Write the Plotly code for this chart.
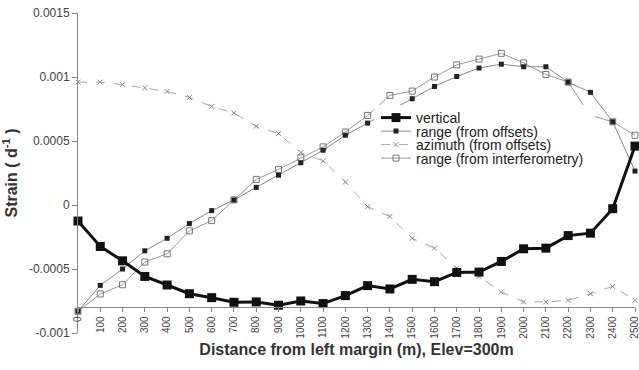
import plotly.graph_objects as go

dist = list(range(0, 2600, 100))
tick_labels = [str(d) for d in dist]

vertical = [-0.000125, -0.000324, -0.000436, -0.000558, -0.000625, -0.000693, -0.000724,
            -0.00076, -0.000757, -0.000783, -0.00075, -0.00077, -0.000708, -0.00063,
            -0.000656, -0.000581, -0.000599, -0.000527, -0.000524, -0.000441, -0.000342,
            -0.000337, -0.000239, -0.00022, -0.000029, 0.00046]
range_offsets = [-0.00083, -0.000628, -0.0005, -0.000358, -0.00026, -0.000145, -0.000044,
                 0.000039, 0.000138, 0.000233, 0.00033, 0.000428, 0.000545, 0.00064,
                 0.00073, 0.00083, 0.000926, 0.001004, 0.00107, 0.0011, 0.00108, 0.00108,
                 0.00096, 0.00088, 0.00065, 0.000265]
azimuth_offsets = [0.00096, 0.00096, 0.00094, 0.000916, 0.000887, 0.00084, 0.00077,
                   0.000718, 0.000615, 0.000558, 0.00041, 0.000345, 0.00018, -0.000013,
                   -0.00009, -0.00026, -0.000337, -0.000493, -0.000558, -0.00068,
                   -0.000757, -0.000757, -0.000745, -0.000693, -0.000636, -0.000745]
range_interf = [-0.00083, -0.000695, -0.000623, -0.000446, -0.000381, -0.000202, -0.000122,
                0.00004, 0.0002, 0.000278, 0.000368, 0.000454, 0.00057, 0.0007, 0.000856,
                0.00089, 0.001, 0.001095, 0.00114, 0.001185, 0.00111, 0.00102, 0.00096,
                0.0007, 0.00065, 0.000545]

y_tickvals = [-0.001, -0.0005, 0, 0.0005, 0.001, 0.0015]
y_ticktext = ["-0.001", "-0.0005", "0", "0.0005", "0.001", "0.0015"]

series_names = ["vertical", "range (from offsets)", "azimuth (from offsets)",
                "range (from interferometry)"]

fig = go.Figure()
fig.add_trace(go.Scatter(x=dist, y=range_interf, name=series_names[3], mode="lines+markers",
                         line=dict(color="#9a9a9a", width=1),
                         marker=dict(symbol="square-open", size=6, color="#777777",
                                     line=dict(width=1, color="#777777")),
                         cliponaxis=False, legend="legend4"))
fig.add_trace(go.Scatter(x=dist, y=azimuth_offsets, name=series_names[2], mode="lines+markers",
                         line=dict(color="#a8a8a8", width=1, dash="dash"),
                         marker=dict(symbol="x-thin-open", size=5, color="#888888",
                                     line=dict(width=1, color="#888888")),
                         cliponaxis=False, legend="legend3"))
fig.add_trace(go.Scatter(x=dist, y=range_offsets, name=series_names[1], mode="lines+markers",
                         line=dict(color="#888888", width=1),
                         marker=dict(symbol="square", size=5, color="#222222"),
                         cliponaxis=False, legend="legend2"))
fig.add_trace(go.Scatter(x=dist, y=vertical, name=series_names[0], mode="lines+markers",
                         line=dict(color="#111111", width=3),
                         marker=dict(symbol="square", size=9, color="#111111"),
                         cliponaxis=False, legend="legend"))

W, H = 639, 370
ml, mr, mt, mb = 78, 4, 13, 37
pw, ph = W - ml - mr, H - mt - mb

def px_x(p):
    return (p - ml) / pw

def px_y(p):
    return (H - mb - p) / ph

# white legend box
fig.add_shape(type="rect", xref="paper", yref="paper",
              x0=px_x(374), x1=px_x(595), y0=px_y(168), y1=px_y(105),
              fillcolor="white", line=dict(width=0), layer="above")

leg_common = dict(bgcolor="rgba(0,0,0,0)", borderwidth=0, font=dict(family="Arial", size=14, color="#222"),
                  xanchor="left", yanchor="middle", itemclick=False)
row_y = [118, 131.5, 145, 158.5]
legend_keys = ["legend", "legend2", "legend3", "legend4"]
layout_legs = {}
for k, ry in zip(legend_keys, row_y):
    layout_legs[k] = dict(x=px_x(376), y=px_y(ry), **leg_common)

fig.update_layout(
    width=W, height=H,
    margin=dict(l=ml, r=mr, t=mt, b=mb, autoexpand=False),
    paper_bgcolor="white", plot_bgcolor="white",
    showlegend=True,
    **layout_legs,
    xaxis=dict(range=[0, 2500], tickvals=dist, ticktext=tick_labels, tickangle=-90,
               anchor="free", position=0.08, showgrid=False, zeroline=False,
               showline=True, linecolor="#888", linewidth=1,
               ticks="outside", ticklen=4, tickcolor="#888",
               ticklabeloverflow="allow",
               tickfont=dict(family="Arial", size=10, color="#444"),
               title=dict(text="<b>Distance from left margin (m), Elev=300m</b>",
                          font=dict(family="Arial", size=16, color="#333"), standoff=6),
               automargin=False),
    yaxis=dict(range=[-0.001, 0.0015], tickvals=y_tickvals, ticktext=y_ticktext,
               showgrid=False, zeroline=False, showline=True, linecolor="#888", linewidth=1,
               ticks="outside", ticklen=5, tickcolor="#888",
               tickfont=dict(family="Arial", size=12, color="#444"),
               title=dict(text="<b>Strain ( d<sup>-1</sup> )</b>",
                          font=dict(family="Arial", size=16, color="#333"), standoff=8),
               automargin=False),
)

fig.write_html("out.html")
